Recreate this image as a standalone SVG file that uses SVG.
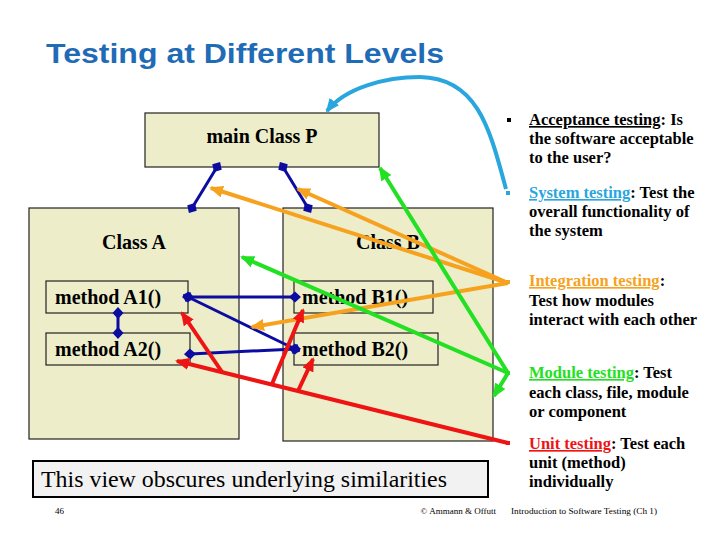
<svg xmlns="http://www.w3.org/2000/svg" width="720" height="540" viewBox="0 0 720 540">
<style>
.box{fill:#ededca;stroke:#222;stroke-width:1.2}
.lbl{font-family:"Liberation Serif","Times New Roman",serif;font-weight:bold;font-size:20px;fill:#000}
.txt{font-family:"Liberation Serif","Times New Roman",serif;font-weight:bold;font-size:16.5px;fill:#000}
.foot{font-family:"Liberation Serif","Times New Roman",serif;font-size:9px;fill:#000}
.blue{stroke:#0c0ca0;stroke-width:3;fill:none;marker-start:url(#dia);marker-end:url(#dia)}
.org{stroke:#f6a21e;stroke-width:4;fill:none;marker-end:url(#aO)}
.grn{stroke:#22e022;stroke-width:4;fill:none;marker-end:url(#aG)}
.red{stroke:#ee1414;stroke-width:4;fill:none}
.redA{marker-end:url(#aR)}
.cyan{stroke:#2aa6de;stroke-width:4;fill:none;marker-end:url(#aC)}
</style>
<defs>
<marker id="dia" markerUnits="userSpaceOnUse" markerWidth="12" markerHeight="12" refX="6" refY="6" orient="auto"><path d="M0,6 L6,0.5 L12,6 L6,11.5 z" fill="#0c0ca0"/></marker>
<marker id="aO" markerUnits="userSpaceOnUse" markerWidth="14" markerHeight="12" refX="12" refY="6" orient="auto"><path d="M0,0 L14,6 L0,12 z" fill="#f6a21e"/></marker>
<marker id="aG" markerUnits="userSpaceOnUse" markerWidth="14" markerHeight="12" refX="12" refY="6" orient="auto"><path d="M0,0 L14,6 L0,12 z" fill="#22e022"/></marker>
<marker id="aR" markerUnits="userSpaceOnUse" markerWidth="14" markerHeight="12" refX="12" refY="6" orient="auto"><path d="M0,0 L14,6 L0,12 z" fill="#ee1414"/></marker>
<marker id="aC" markerUnits="userSpaceOnUse" markerWidth="14" markerHeight="12" refX="12" refY="6" orient="auto"><path d="M0,0 L14,6 L0,12 z" fill="#2aa6de"/></marker>
</defs>
<rect width="720" height="540" fill="#fff"/>
<text x="46" y="63" font-family="Liberation Sans,Arial,sans-serif" font-weight="bold" font-size="28" fill="#1f6bb5" textLength="398" lengthAdjust="spacingAndGlyphs">Testing at Different Levels</text>

<g id="classP"><rect class="box" x="145" y="113" width="234" height="54"/><text class="lbl" x="262" y="143" text-anchor="middle">main Class P</text></g>
<g id="classA"><rect class="box" x="29" y="208" width="210" height="231"/><text class="lbl" x="134" y="249" text-anchor="middle">Class A</text></g>
<g id="classB"><rect class="box" x="283" y="208" width="210" height="233"/><text class="lbl" x="388" y="249" text-anchor="middle">Class B</text></g>
<g id="methodA1"><rect class="box" x="46" y="281" width="142" height="32"/><text class="lbl" x="55" y="304">method A1()</text></g>
<g id="methodA2"><rect class="box" x="46" y="333" width="144" height="32"/><text class="lbl" x="55" y="356">method A2()</text></g>
<g id="methodB1"><rect class="box" x="294" y="281" width="139" height="32"/><text class="lbl" x="302" y="304">method B1()</text></g>
<g id="methodB2"><rect class="box" x="294" y="333" width="144" height="32"/><text class="lbl" x="302" y="356">method B2()</text></g>

<g id="note"><rect x="33" y="461" width="455" height="36" fill="#f2f2f2" stroke="#000" stroke-width="2"/><text x="41" y="487" font-family="Liberation Serif,'Times New Roman',serif" font-size="24" fill="#000" textLength="406" lengthAdjust="spacingAndGlyphs">This view obscures underlying similarities</text></g>

<g id="levels">
<rect x="507" y="118" width="4" height="4" fill="#000"/>
<text class="txt" x="529" y="125"><tspan text-decoration="underline">Acceptance testing</tspan>: Is</text>
<text class="txt" x="529" y="144">the software acceptable</text>
<text class="txt" x="529" y="163">to the user?</text>
<rect x="506" y="191" width="4" height="4" fill="#2aa6de"/>
<text class="txt" x="529" y="198"><tspan fill="#2aa6de" text-decoration="underline">System testing</tspan>: Test the</text>
<text class="txt" x="529" y="217">overall functionality of</text>
<text class="txt" x="529" y="236">the system</text>
<rect x="506" y="280" width="4" height="4" fill="#f6a21e"/>
<text class="txt" x="529" y="286"><tspan fill="#f6a21e" text-decoration="underline">Integration testing</tspan>:</text>
<text class="txt" x="529" y="306">Test how modules</text>
<text class="txt" x="529" y="325">interact with each other</text>
<rect x="506" y="371" width="4" height="4" fill="#22e022"/>
<text class="txt" x="529" y="378"><tspan fill="#22e022" text-decoration="underline">Module testing</tspan>: Test</text>
<text class="txt" x="529" y="398">each class, file, module</text>
<text class="txt" x="529" y="417">or component</text>
<rect x="506" y="441" width="4" height="4" fill="#ee1414"/>
<text class="txt" x="529" y="449"><tspan fill="#ee1414" text-decoration="underline">Unit testing</tspan>: Test each</text>
<text class="txt" x="529" y="468">unit (method)</text>
<text class="txt" x="529" y="487">individually</text>
</g>

<g id="connectors">
<line class="blue" x1="217" y1="167" x2="192" y2="208"/>
<line class="blue" x1="283" y1="167" x2="308" y2="208"/>
<line class="blue" x1="118" y1="313" x2="118" y2="333"/>
<line class="blue" x1="188" y1="297" x2="295" y2="297"/>
<line class="blue" x1="188" y1="297" x2="295" y2="349"/>
<line class="blue" x1="190" y1="354" x2="295" y2="349"/>
<line class="org" x1="508" y1="283" x2="211" y2="188"/>
<line class="org" x1="508" y1="283" x2="298" y2="189"/>
<line class="org" x1="508" y1="283" x2="252" y2="327"/>
<line class="grn" x1="508" y1="373" x2="380" y2="168"/>
<line class="grn" x1="508" y1="373" x2="242" y2="257"/>
<line class="grn" x1="508" y1="373" x2="494" y2="396"/>
<line class="red redA" x1="508" y1="443" x2="177" y2="361"/>
<line class="red redA" x1="222" y1="372" x2="182" y2="313"/>
<line class="red redA" x1="272" y1="384" x2="303" y2="310"/>
<line class="red redA" x1="298" y1="391" x2="313" y2="359"/>
<path class="cyan" d="M506,189 C490,130 478,78 420,77 C385,77 345,88 327,111"/>
</g>

<g id="footer">
<text class="foot" x="55" y="514">46</text>
<text class="foot" x="496" y="514" text-anchor="end">© Ammann &amp; Offutt</text>
<text class="foot" x="511" y="514" textLength="146" lengthAdjust="spacingAndGlyphs">Introduction to Software Testing (Ch 1)</text>
</g>
</svg>
